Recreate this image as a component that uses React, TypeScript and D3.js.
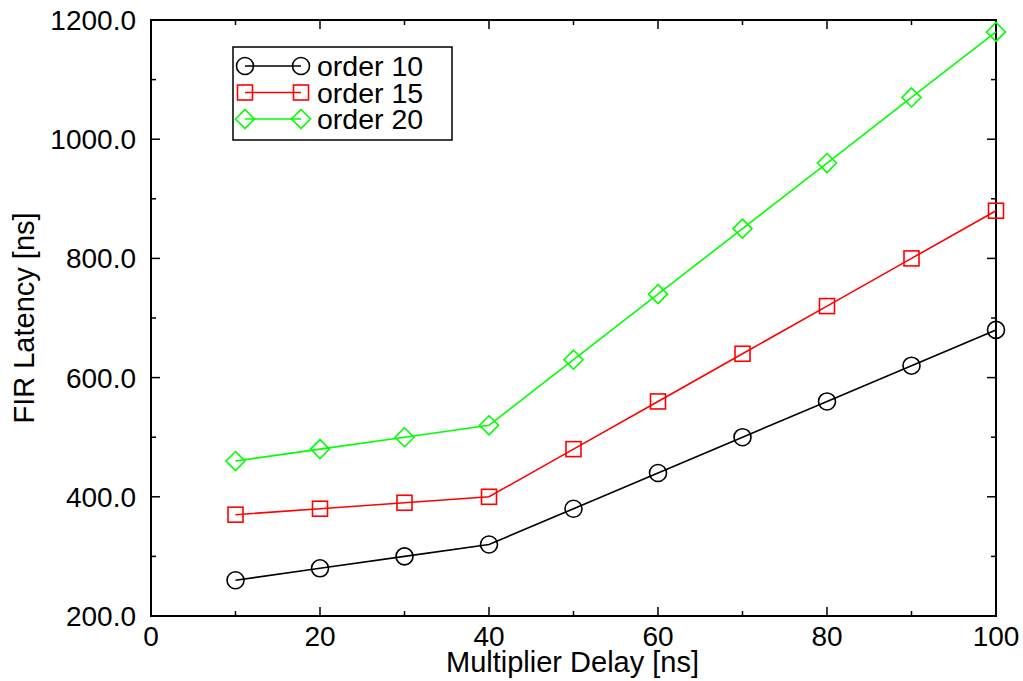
import React from "react";
import * as d3 from "d3";

const xValues = [10, 20, 30, 40, 50, 60, 70, 80, 90, 100];
const order10 = [260, 280, 300, 320, 380, 440, 500, 560, 620, 680];
const order15 = [370, 380, 390, 400, 480, 560, 640, 720, 800, 880];
const order20 = [460, 480, 500, 520, 630, 740, 850, 960, 1070, 1180];
const seriesNames = ["order 10", "order 15", "order 20"];
const seriesColors = ["#000000", "#ff0000", "#00ff00"];
const seriesMarkers = ["circle", "square", "diamond"];
const xMajorTicks = [0, 20, 40, 60, 80, 100];
const xMinorTicks = [10, 30, 50, 70, 90];
const yMajorTicks = [200, 400, 600, 800, 1000, 1200];
const yMinorTicks = [300, 500, 700, 900, 1100];

const W = 1023;
const H = 681;
const L = 151, R = 996, T = 20, B = 616;
const FONT = "'Liberation Sans', Arial, Helvetica, sans-serif";

function Marker({ kind, x, y, color }: { kind: string; x: number; y: number; color: string }) {
  const common = { fill: "none", stroke: color, strokeWidth: 1.6 };
  if (kind === "circle") return <circle cx={x} cy={y} r={8.5} {...common} />;
  if (kind === "square") return <rect x={x - 7.5} y={y - 7.5} width={15} height={15} {...common} />;
  const d = 9.5;
  return <path d={`M${x},${y - d}L${x + d},${y}L${x},${y + d}L${x - d},${y}Z`} {...common} />;
}

export default function App() {
  const x = d3.scaleLinear().domain([0, 100]).range([L, R]);
  const y = d3.scaleLinear().domain([200, 1200]).range([B, T]);
  const allSeries = [order10, order15, order20];
  const line = d3
    .line<number>()
    .x((_, i) => x(xValues[i]))
    .y((d) => y(d));

  const major = 9, minor = 5;
  return (
    <svg width={W} height={H} style={{ position: "absolute", left: 0, top: 0, background: "#fff" }}>
      <rect x={0} y={0} width={W} height={H} fill="#fff" />
      <g stroke="#000" strokeWidth={1.5}>
        {xMajorTicks.map((t) => (
          <g key={"xm" + t}>
            <line x1={x(t)} x2={x(t)} y1={B} y2={B - major} />
            <line x1={x(t)} x2={x(t)} y1={T} y2={T + major} />
          </g>
        ))}
        {xMinorTicks.map((t) => (
          <g key={"xn" + t}>
            <line x1={x(t)} x2={x(t)} y1={B} y2={B - minor} />
            <line x1={x(t)} x2={x(t)} y1={T} y2={T + minor} />
          </g>
        ))}
        {yMajorTicks.map((t) => (
          <g key={"ym" + t}>
            <line x1={L} x2={L + major} y1={y(t)} y2={y(t)} />
            <line x1={R} x2={R - major} y1={y(t)} y2={y(t)} />
          </g>
        ))}
        {yMinorTicks.map((t) => (
          <g key={"yn" + t}>
            <line x1={L} x2={L + minor} y1={y(t)} y2={y(t)} />
            <line x1={R} x2={R - minor} y1={y(t)} y2={y(t)} />
          </g>
        ))}
      </g>
      <rect x={L} y={T} width={R - L} height={B - T} fill="none" stroke="#000" strokeWidth={2} />
      <g fontFamily={FONT} fill="#000">
        {xMajorTicks.map((t) => (
          <text key={"xl" + t} x={x(t)} y={646} textAnchor="middle" fontSize={28}>
            {t}
          </text>
        ))}
        {yMajorTicks.map((t) => (
          <text key={"yl" + t} x={136} y={y(t) + 10} textAnchor="end" fontSize={28}>
            {t.toFixed(1)}
          </text>
        ))}
        <text x={(L + R) / 2 - 1} y={672} textAnchor="middle" fontSize={29}>
          Multiplier Delay [ns]
        </text>
        <text transform={`translate(34,${(T + B) / 2}) rotate(-90)`} textAnchor="middle" fontSize={29}>
          FIR Latency [ns]
        </text>
      </g>
      {allSeries.map((s, si) => (
        <g key={"s" + si}>
          <path d={line(s) || ""} fill="none" stroke={seriesColors[si]} strokeWidth={1.6} />
          {s.map((v, i) => (
            <Marker key={i} kind={seriesMarkers[si]} x={x(xValues[i])} y={y(v)} color={seriesColors[si]} />
          ))}
        </g>
      ))}
      <rect x={233} y={47} width={219} height={93} fill="#fff" stroke="#000" strokeWidth={1.5} />
      {seriesNames.map((n, i) => {
        const ry = 66 + i * 26.5;
        return (
          <g key={"lg" + i}>
            <line x1={245} x2={301} y1={ry} y2={ry} stroke={seriesColors[i]} strokeWidth={1.6} />
            <Marker kind={seriesMarkers[i]} x={245} y={ry} color={seriesColors[i]} />
            <Marker kind={seriesMarkers[i]} x={301} y={ry} color={seriesColors[i]} />
            <text x={317} y={ry + 10} fontFamily={FONT} fontSize={28.5} fill="#000">
              {n}
            </text>
          </g>
        );
      })}
    </svg>
  );
}
